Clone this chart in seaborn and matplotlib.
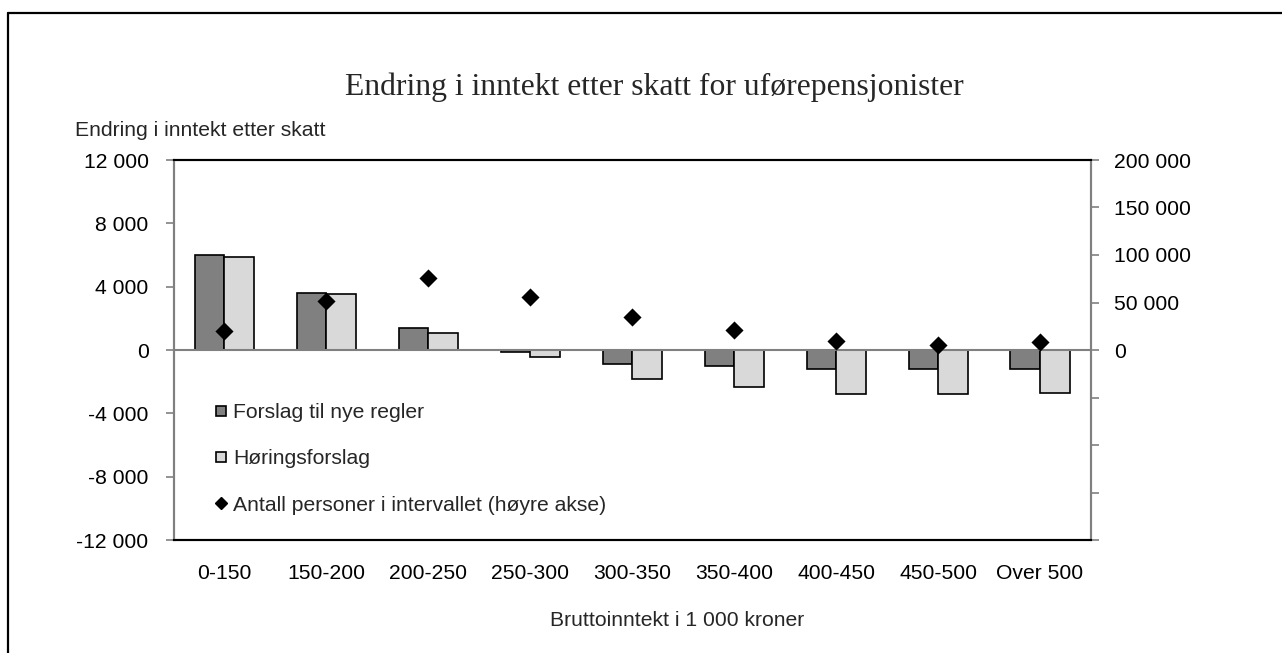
import numpy as np
import pandas as pd
import matplotlib
matplotlib.use("Agg")
import matplotlib.pyplot as plt
from matplotlib.lines import Line2D
import seaborn as sns

categories = ["0-150", "150-200", "200-250", "250-300", "300-350",
              "350-400", "400-450", "450-500", "Over 500"]
forslag = [6000, 3620, 1370, -150, -870, -1030, -1200, -1220, -1180]
horing = [5900, 3560, 1100, -440, -1810, -2340, -2760, -2800, -2740]
antall = [20000, 51600, 76100, 55800, 35100, 20700, 9800, 5600, 8400]

series_names = ["Forslag til nye regler", "Høringsforslag"]
scatter_name = "Antall personer i intervallet (høyre akse)"

left_ticks = [-12000, -8000, -4000, 0, 4000, 8000, 12000]
left_labels = ["-12 000", "-8 000", "-4 000", "0", "4 000", "8 000", "12 000"]
right_ticks = [-200000, -150000, -100000, -50000, 0, 50000, 100000, 150000, 200000]
right_labels = ["", "", "", "", "0", "50 000", "100 000", "150 000", "200 000"]

title = "Endring i inntekt etter skatt for uførepensjonister"
ylabel = "Endring i inntekt etter skatt"
xlabel = "Bruttoinntekt i 1 000 kroner"

sns.set_theme(style="white")
plt.rcParams["font.family"] = ["Liberation Sans", "DejaVu Sans"]

FS = 15.2

df = pd.DataFrame({
    "Kategori": categories * 2,
    "Verdi": forslag + horing,
    "Serie": [series_names[0]] * len(categories) + [series_names[1]] * len(categories),
})

fig = plt.figure(figsize=(12.82, 6.53), dpi=100)
W, H = 1282, 653
AX_L, AX_R, AX_T, AX_B = 173.5, 1091, 160, 540
ax = fig.add_axes([AX_L / W, 1 - AX_B / H, (AX_R - AX_L) / W, (AX_B - AX_T) / H])

colors = {series_names[0]: "#808080", series_names[1]: "#d9d9d9"}
sns.barplot(data=df, x="Kategori", y="Verdi", hue="Serie", order=categories,
            hue_order=series_names, palette=colors, width=0.58, gap=0,
            edgecolor="black", linewidth=1.2, saturation=1, legend=False, ax=ax)

ax.set_ylim(-12000, 12000)
ax.set_xlim(-0.5, len(categories) - 0.5)
ax.set_yticks(left_ticks)
ax.set_yticklabels(left_labels)
ax.axhline(0, color="#808080", linewidth=1.5, zorder=3)
ax.set_xlabel("")
ax.set_ylabel("")
ax.tick_params(axis="y", which="both", left=True, length=6, width=1.2,
               color="#808080", pad=12, labelsize=FS, labelcolor="black")
ax.tick_params(axis="x", length=0, pad=17, labelsize=FS, labelcolor="black")

ax2 = ax.twinx()
sns.scatterplot(x=np.arange(len(categories)), y=antall, marker="D", s=85,
                color="black", edgecolor="black", linewidth=0, ax=ax2, zorder=5,
                legend=False)
ax2.set_ylim(-200000, 200000)
ax2.set_yticks(right_ticks)
ax2.set_yticklabels(right_labels)
ax2.tick_params(axis="y", right=True, length=6, width=1.2, color="#808080",
                pad=10.5, labelsize=FS, labelcolor="black")
ax2.set_xlim(-0.5, len(categories) - 0.5)

for a in (ax, ax2):
    a.spines["top"].set_color("black")
    a.spines["bottom"].set_color("black")
    a.spines["left"].set_color("#808080")
    a.spines["right"].set_color("#808080")
    for s in a.spines.values():
        s.set_linewidth(1.5)
    a.grid(False)

handles = [
    Line2D([], [], linestyle="none", marker="s", markersize=7.5,
           markerfacecolor="#808080", markeredgecolor="black", markeredgewidth=1.2),
    Line2D([], [], linestyle="none", marker="s", markersize=7.5,
           markerfacecolor="#d9d9d9", markeredgecolor="black", markeredgewidth=1.2),
    Line2D([], [], linestyle="none", marker="D", markersize=6,
           markerfacecolor="black", markeredgecolor="black"),
]
ax2.legend(handles, series_names + [scatter_name], loc="center left",
           bbox_to_anchor=((215 - AX_L) / (AX_R - AX_L), (AX_B - 459) / (AX_B - AX_T)),
           frameon=False, fontsize=FS, handlelength=0.6, handletextpad=0.25,
           labelspacing=1.28, borderpad=0, borderaxespad=0)

fig.text(654 / W, 1 - 87 / H, title, ha="center", va="center",
         fontsize=22.8, family=["Liberation Serif", "DejaVu Serif"])
fig.text(75 / W, 1 - 130 / H, ylabel, ha="left", va="center", fontsize=FS)
fig.text(677 / W, 1 - 620 / H, xlabel, ha="center", va="center", fontsize=FS)

fig.add_artist(Line2D([8 / W, 1], [1 - 13 / H, 1 - 13 / H], color="black",
                      linewidth=1.6, transform=fig.transFigure))
fig.add_artist(Line2D([8 / W, 8 / W], [0, 1 - 13 / H], color="black",
                      linewidth=1.6, transform=fig.transFigure))

fig.savefig("out.png", dpi=100, facecolor="white")
